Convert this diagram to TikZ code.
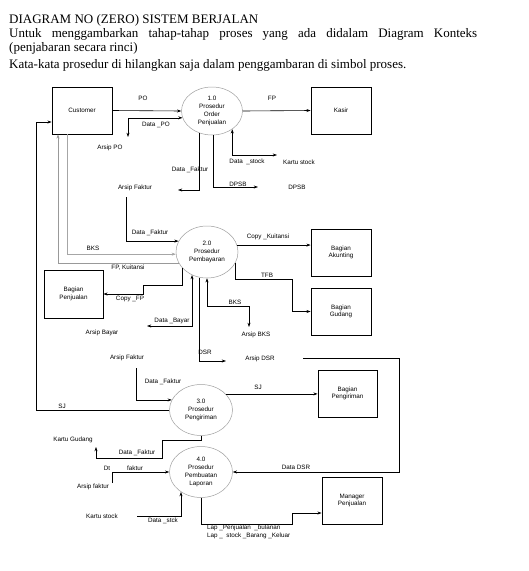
\documentclass[tikz,border=0pt]{standalone}
\usepackage{fontspec}
\setmainfont{Liberation Serif}
\newfontfamily\lblfont{Liberation Sans}
\usetikzlibrary{arrows.meta,shapes.geometric}
\begin{document}
\begin{tikzpicture}[x=1pt,y=-1pt,
  lbl/.style={font=\lblfont\fontsize{6.3}{7.5}\selectfont,inner sep=0pt,align=center},
  ent/.style={draw=black,line width=0.8pt,minimum width=60pt,minimum height=47pt,inner sep=0pt,font=\lblfont\fontsize{6.3}{7.5}\selectfont,align=center},
  proc/.style={ellipse,draw=gray!75,line width=0.5pt,inner sep=0pt,font=\lblfont\fontsize{6.3}{7.8}\selectfont,align=center},
  flow/.style={draw=black,line width=0.6pt},
  arr/.style={flow,-{Stealth[length=4.2pt,width=3pt]}},
  barr/.style={flow,{Stealth[length=4.2pt,width=3pt]}-{Stealth[length=4.2pt,width=3pt]}},
  hdr/.style={font=\fontsize{13}{14}\selectfont,inner sep=0pt,anchor=base west}
]
\useasboundingbox[fill=white] (0,0) rectangle (529,571);

% header
\node[hdr] (h1) at (9,23) {DIAGRAM NO (ZERO) SISTEM BERJALAN};
\node[hdr] (h2) at (9,37.5) {\makebox[468pt][s]{Untuk menggambarkan tahap-tahap proses yang ada didalam Diagram Konteks}};
\node[hdr] (h3) at (9,51.5) {(penjabaran secara rinci)};
\node[hdr] (h4) at (9,68) {Kata-kata prosedur di hilangkan saja dalam penggambaran di simbol proses.};

% entities
\node[ent] (cust) at (82,110.5) {Customer};
\node[ent] (kasir) at (341,110.5) {Kasir};
\node[ent] (akun) at (341,252.5) {Bagian\\Akunting};
\node[ent] (gudang) at (341,311.5) {Bagian\\Gudang};
\node[ent,minimum width=59pt,minimum height=48pt] (penj) at (73.5,294) {Bagian\\Penjualan};
\node[ent,minimum width=59pt] (kirim) at (347.5,393.5) {Bagian\\Pengiriman};
\node[ent] (mgr) at (352,500.5) {Manager\\Penjualan};

% processes
\node[proc,minimum width=61pt,minimum height=48pt] (p1) at (212,111) {1.0\\Prosedur\\Order\\Penjualan};
\node[proc,minimum width=62pt,minimum height=52pt] (p2) at (207,252) {2.0\\Prosedur\\Pembayaran};
\node[proc,minimum width=63pt,minimum height=51pt] (p3) at (201,410) {3.0\\Prosedur\\Pengiriman};
\node[proc,minimum width=63pt,minimum height=51pt] (p4) at (201,472) {4.0\\Prosedur\\Pembuatan\\Laporan};

% free ends
\coordinate (cPO) at (128,137);
\coordinate (cKS) at (277,155);
\coordinate (cAF1) at (178,190);
\coordinate (cDPSB) at (258,187);
\coordinate (cAF2) at (126,197);
\coordinate (cAB) at (147,326);
\coordinate (cABKS) at (249,327);
\coordinate (cDSR) at (226,361);
\coordinate (cDSR2) at (303,358);
\coordinate (cAF3) at (136,368);
\coordinate (cKG) at (96,447);
\coordinate (cDt) at (112,483);
\coordinate (cKS2) at (137,516);

% process 1.0 flows
\draw[arr] (cust.east) -- (p1.west);
\draw[barr] (cPO) |- (p1.193);
\draw[arr] (p1.east) -- (kasir.west);
\draw[barr] (p1.318) |- (cKS);
\draw[arr] (p1.241) |- (cAF1);
\draw[arr] (p1.272) |- (cDPSB);

% process 2.0 flows
\draw[arr,draw=gray!70] ([xshift=-15pt]cust.south) |- (p2.184);
\draw[arr,draw=gray!80] (p2.201) -| ([xshift=-24pt]cust.south);
\draw[arr] (cAF2) |- (p2.159);
\draw[arr] (p2.13) -- (p2.13 -| akun.west);
\draw[arr] (p2.338) |- (292,279) |- (gudang.west);
\draw[arr] (p2.214) |- (143,285) |- (penj.east);
\draw[barr] (p2.237) |- (cAB);
\draw[barr] (p2.south) |- (249,306) -- (cABKS);
\draw[arr] (p2.254) |- (cDSR);

% process 3.0 flows
\draw[arr] (cAF3) |- (p3.161);
\draw[arr] (p3.west) -- ++(-133,0) |- ([yshift=-11.5pt]cust.west);
\draw[arr] (p3.33) -- (p3.33 -| kirim.west);
\draw[arr] (p3.south) |- (162,440) |- (96,458) -- (cKG);

% process 4.0 flows
\draw[arr] (cDSR2) -- (399,358) |- (p4.east);
\draw[arr] (cDt) |- (p4.west);
\draw[arr] (cKS2) -| (p4.225);
\draw[arr] (p4.south) |- (292,524) |- ([yshift=-12.5pt]mgr.west);

% labels
\node[lbl] (lPO) at (143,98) {PO};
\node[lbl] (lFP) at (272,98) {FP};
\node[lbl] (lDPO) at (156,125) {Data \_PO};
\node[lbl] (lArPO) at (110,148) {Arsip PO};
\node[lbl] (lDst) at (247,162) {Data \ \_stock};
\node[lbl] (lKst) at (299,162) {Kartu stock};
\node[lbl] (lDF1) at (190,169.5) {Data \_Faktur};
\node[lbl] (lDPSB1) at (238,184) {DPSB};
\node[lbl] (lDPSB2) at (297,187) {DPSB};
\node[lbl] (lArF1) at (135,188) {Arsip Faktur};

\node[lbl] (lDF2) at (150,233) {Data \_Faktur};
\node[lbl] (lBKS1) at (93,248) {BKS};
\node[lbl] (lFPK) at (128,268) {FP, Kuitansi};
\node[lbl] (lCFP) at (130,299) {Copy \_FP};
\node[lbl] (lDB) at (172,321) {Data \_Bayar};
\node[lbl] (lArB) at (102,333) {Arsip Bayar};
\node[lbl] (lBKS2) at (235,302) {BKS};
\node[lbl] (lArBKS) at (256,335) {Arsip BKS};
\node[lbl] (lCK) at (268,237) {Copy \_Kuitansi};
\node[lbl] (lTFB) at (267,275) {TFB};

\node[lbl] (lDSR) at (205,352) {DSR};
\node[lbl] (lArDSR) at (260,359) {Arsip DSR};
\node[lbl] (lArF2) at (127,358) {Arsip Faktur};
\node[lbl] (lDF3) at (163,382) {Data \_Faktur};
\node[lbl] (lSJ1) at (62,406) {SJ};
\node[lbl] (lSJ2) at (258,387) {SJ};

\node[lbl] (lKG) at (73,440) {Kartu Gudang};
\node[lbl] (lDF4) at (137,453) {Data \_Faktur};
\node[lbl] (lDt) at (107,468) {Dt};
\node[lbl] (lfak) at (135,468) {faktur};
\node[lbl] (lArf) at (93,487) {Arsip faktur};
\node[lbl] (lKst2) at (102,516) {Kartu stock};
\node[lbl] (lDstk) at (163,521) {Data \_stck};
\node[lbl] (lDDSR) at (296,467) {Data DSR};
\node[lbl,anchor=west,align=left] (lLap) at (207,532) {Lap \_Penjualan \ \_bulanan\\Lap \_ \ stock \_Barang \_Keluar};
\end{tikzpicture}
\end{document}
